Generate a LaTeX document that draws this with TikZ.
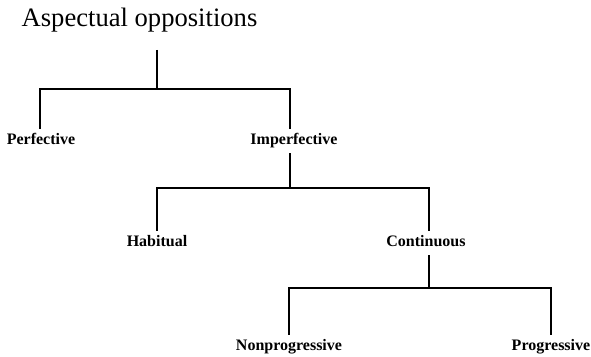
\documentclass[tikz,border=0pt]{standalone}
\usepackage{fontspec}
\setmainfont{Liberation Serif}
\begin{document}
\begin{tikzpicture}[x=0.5pt, y=-0.5pt,
    branch/.style={line width=0.9pt},
    term/.style={font=\fontsize{8}{10}\selectfont\bfseries, text height=6pt, text depth=2pt, inner sep=2pt}]
\useasboundingbox (0,0) rectangle (591,357);
\node[font=\fontsize{13.3}{16}\selectfont, anchor=base] (title) at (139.5, 27) {Aspectual oppositions};
% first level
\coordinate (root)  at (157, 50);
\coordinate (bar1)  at (157, 89);
\node[term] (perf)  at ( 41,141) {Perfective};
\node[term] (imperf) at (294,141) {Imperfective};
% second level
\coordinate (bar2)  at (290,188);
\node[term] (habit) at (157,243) {Habitual};
\node[term] (cont)  at (426,243) {Continuous};
% third level
\coordinate (bar3)  at (429,288);
\node[term] (nonprog) at (289,347) {Nonprogressive};
\node[term] (prog)    at (551,347) {Progressive};
\draw[branch] (root) -- (bar1);
\draw[branch] (perf.north -| 40,0) |- (bar1);
\draw[branch] (imperf.north -| 290,0) |- (bar1);
\draw[branch] (imperf.south -| 290,0) -- (bar2);
\draw[branch] (habit.north) |- (bar2);
\draw[branch] (cont.north -| 429,0) |- (bar2);
\draw[branch] (cont.south -| 429,0) -- (bar3);
\draw[branch] (nonprog.north) |- (bar3);
\draw[branch] (prog.north) |- (bar3);
\end{tikzpicture}
\end{document}
